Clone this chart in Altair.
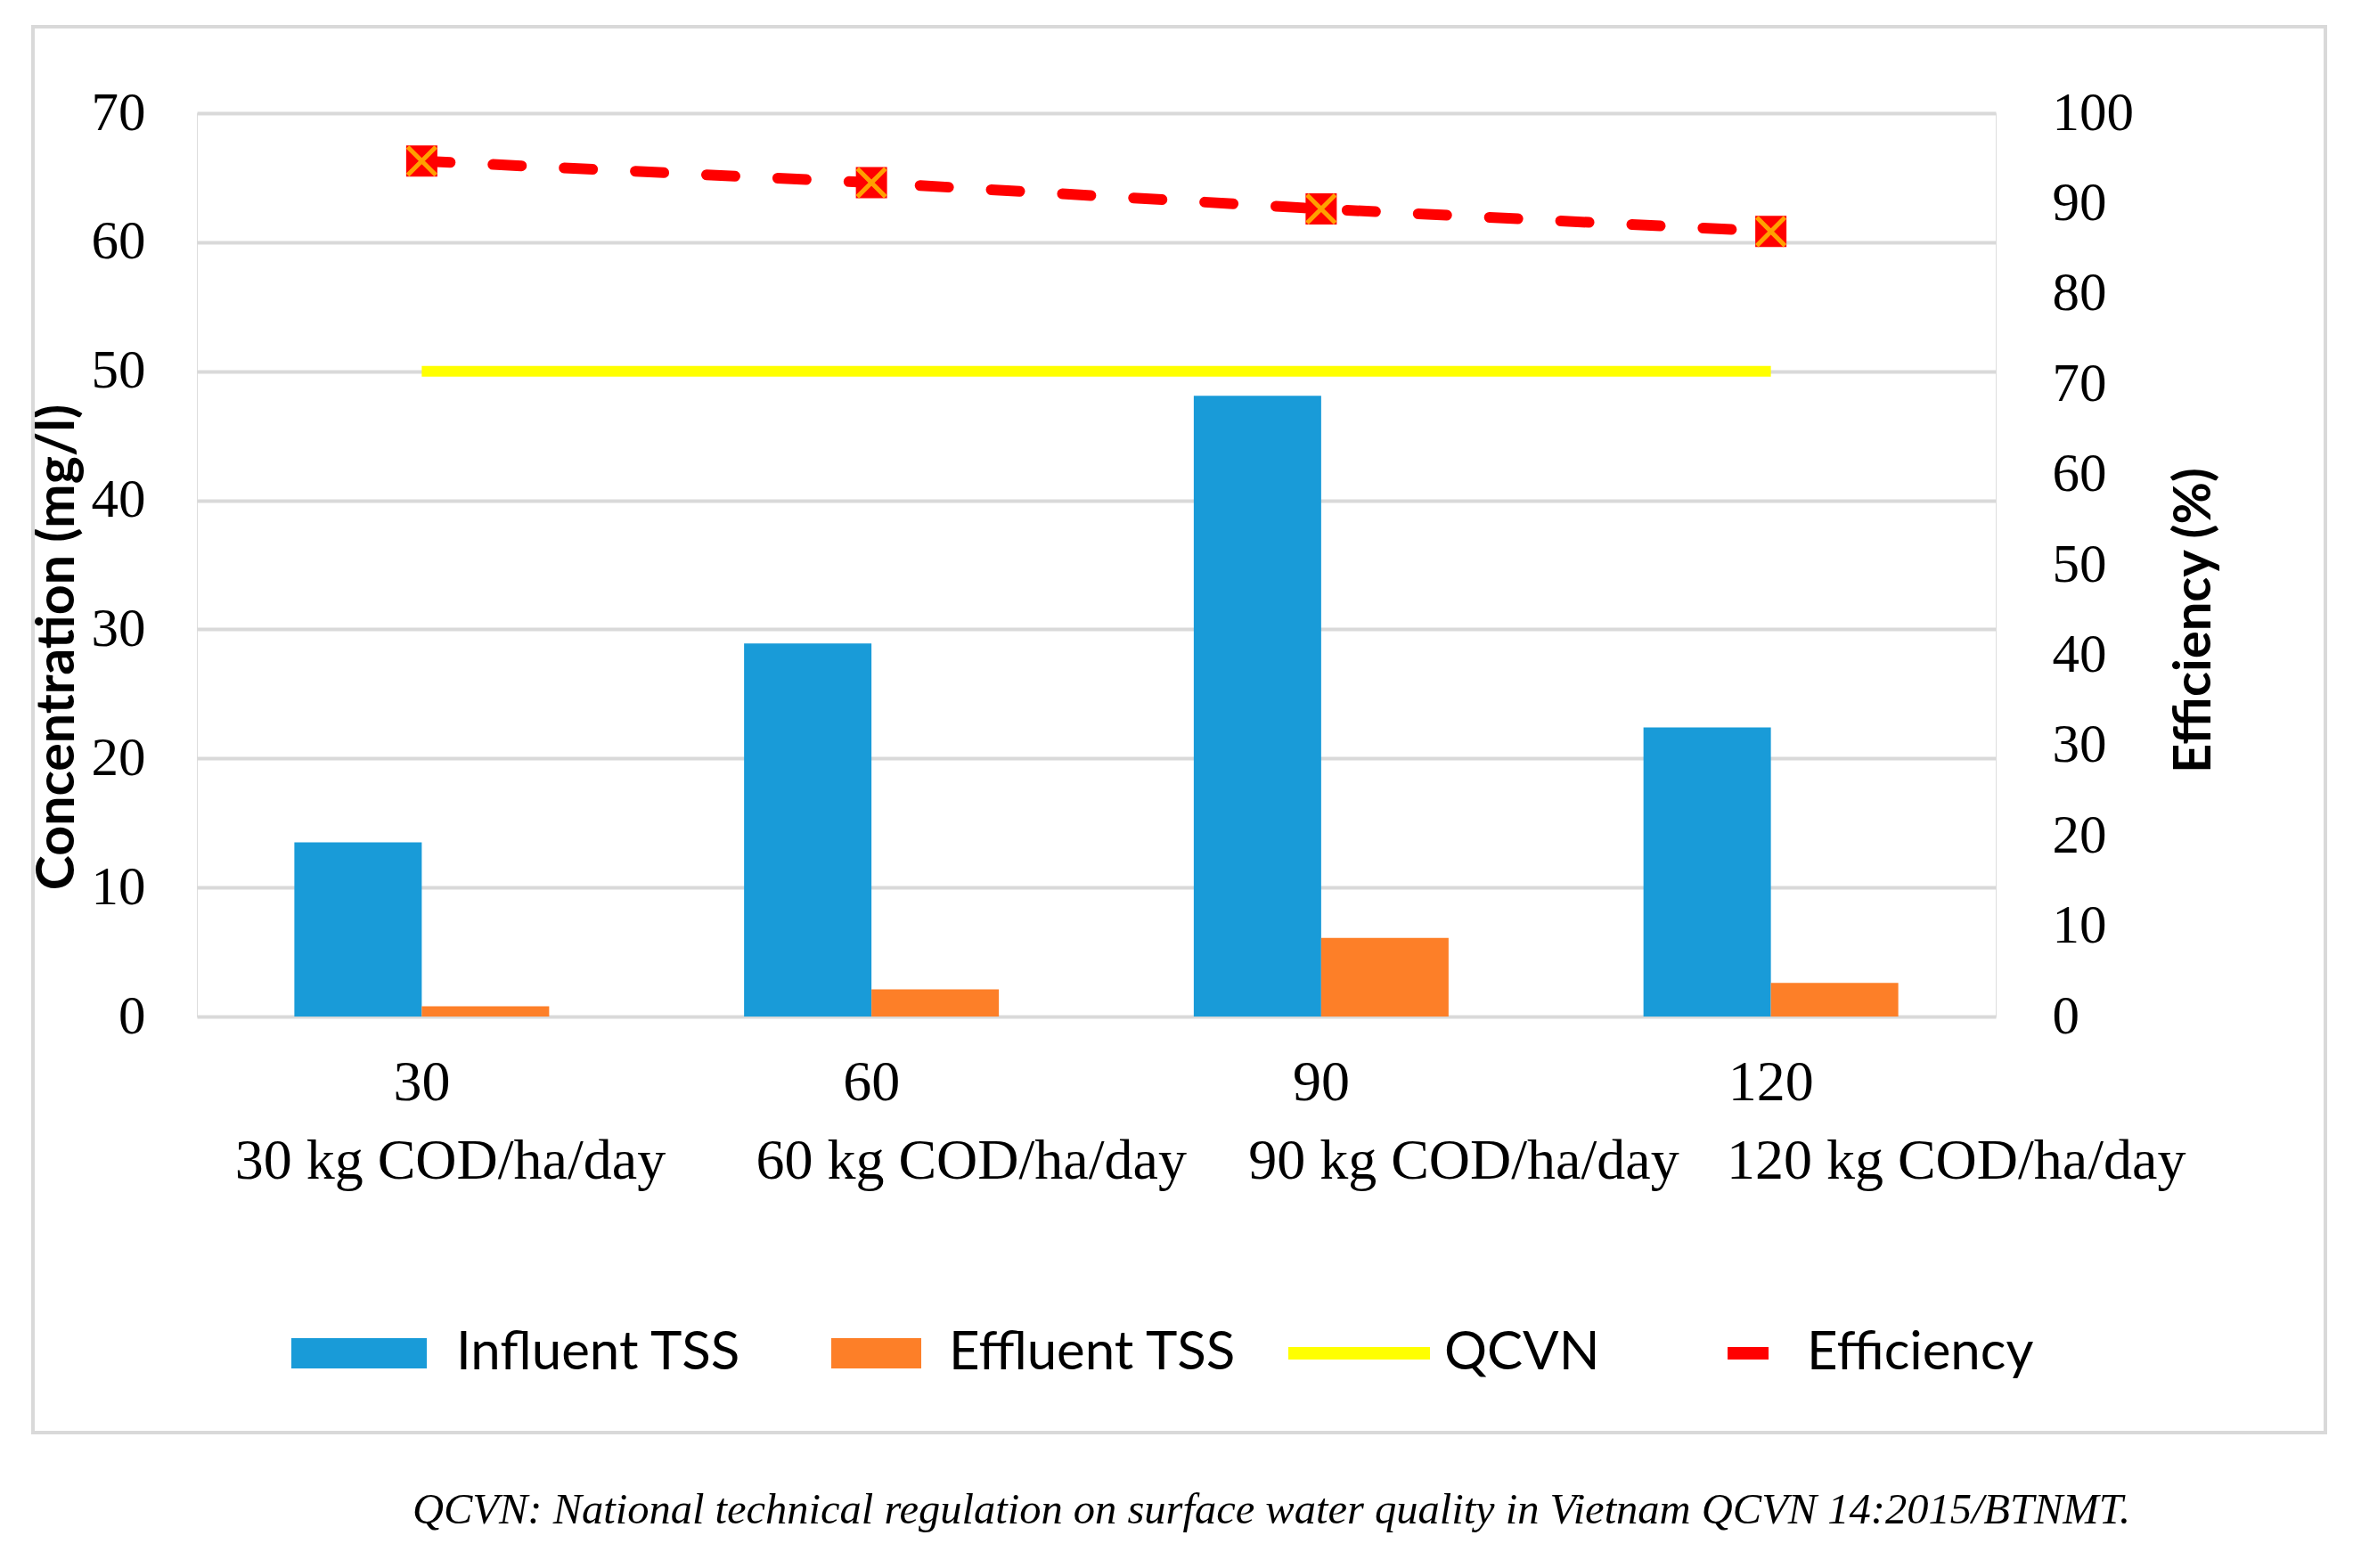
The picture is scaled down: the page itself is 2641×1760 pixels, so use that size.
import altair as alt
import pandas as pd

# ---- data ----
loads = ["30", "60", "90", "120"]
influent_tss = [13.5, 28.9, 48.1, 22.4]
effluent_tss = [0.8, 2.1, 6.1, 2.6]
qcvn_limit = [50, 50, 50, 50]
efficiency = [94.7, 92.3, 89.4, 86.9]

series_names = ["Influent TSS", "Effluent TSS", "QCVN", "Efficiency"]
series_colors = ["#199bd8", "#fd7f28", "#ffff00", "#ff0000"]
# legend key shapes (unit box -1..1), right-aligned to their labels
legend_shapes = [
    "M-0.9,-0.189H0.789V0.189H-0.9Z",
    "M-0.311,-0.189H0.811V0.189H-0.311Z",
    "M-0.789,-0.078H0.978V0.078H-0.789Z",
    "M0.167,-0.078H0.678V0.078H0.167Z",
]
footnote = "QCVN: National technical regulation on surface water quality in Vietnam QCVN 14:2015/BTNMT."

bars_df = pd.DataFrame(
    [{"load": l, "series": "Influent TSS", "value": v} for l, v in zip(loads, influent_tss)]
    + [{"load": l, "series": "Effluent TSS", "value": v} for l, v in zip(loads, effluent_tss)]
)
qcvn_df = pd.DataFrame({"load": loads, "series": "QCVN", "qcvn": qcvn_limit})
eff_df = pd.DataFrame({"load": loads, "series": "Efficiency", "eff": efficiency})
legend_df = pd.DataFrame({"series": series_names})
frame_df = pd.DataFrame({"k": [0]})

W, H = 2019, 1014

color_scale = alt.Scale(domain=series_names, range=series_colors)
shape_scale = alt.Scale(domain=series_names, range=legend_shapes)

legend = alt.Legend(
    orient="none", legendX=97, legendY=1302, direction="horizontal", title=None,
    symbolSize=32400, symbolStrokeWidth=0, symbolOpacity=1, symbolType="square",
    labelFont="Lato", labelFontSize=60,
    labelColor="black", labelOffset=14, labelLimit=1000, columnPadding=38, padding=0,
)

# second label line, nudged right as in the original (zero-width char keeps the pad from being trimmed)
ZW = "\u200b"
NB = "\u00a0"
second_line = (
    "'{zw}' + (datum.label == '30' ? pad('', 4, '{nb}') : datum.label == '60' ? pad('', 14, '{nb}') : "
    "datum.label == '90' ? pad('', 20, '{nb}') : pad('', 26, '{nb}')) + datum.label + ' kg COD/ha/day'"
).format(nb=NB, zw=ZW)

x_axis = alt.Axis(
    title=None, domain=False, ticks=False, grid=False, labelAngle=0,
    labelFont="Liberation Serif", labelFontSize=64, labelColor="black",
    labelPadding=42, labelLimit=1000, labelOverlap=False, labelLineHeight=88,
    labelExpr="[datum.label, " + second_line + "]",
)
x_enc = alt.X("load:N", sort=loads,
              scale=alt.Scale(paddingInner=0.4334, paddingOuter=0.2167),
              axis=x_axis)

left_axis = alt.Axis(
    title="Concentration (mg/l)", values=list(range(0, 71, 10)), domain=False, ticks=False,
    grid=True, gridColor="#d9d9d9", gridWidth=4,
    labelFont="Liberation Serif", labelFontSize=61, labelColor="black", labelPadding=58,
    titleFont="Lato", titleFontSize=59, titleFontWeight="bold", titleColor="black",
    titlePadding=8, titleY=599,
)
right_axis = alt.Axis(
    title="Efficiency (%)", orient="right", values=list(range(0, 101, 10)),
    domain=False, ticks=False, grid=False,
    labelFont="Liberation Serif", labelFontSize=61, labelColor="black", labelPadding=63,
    titleFont="Lato", titleFontSize=58, titleFontWeight="bold", titleColor="black",
    titleAngle=270, titleBaseline="top", titlePadding=40, titleY=569,
)

frame = alt.Chart(frame_df).mark_rect(
    fill=None, stroke="#d9d9d9", strokeWidth=4, clip=False
).encode(
    x=alt.value(-184), x2=alt.value(2389), y=alt.value(-97), y2=alt.value(1481)
)

# invisible marks that only carry the legend (colour + key shape)
legend_layer = alt.Chart(legend_df).mark_point(filled=True, opacity=0).encode(
    x=alt.value(0), y=alt.value(0),
    color=alt.Color("series:N", scale=color_scale, legend=legend),
    shape=alt.Shape("series:N", scale=shape_scale, legend=legend),
)

bars = alt.Chart(bars_df).mark_bar().encode(
    x=x_enc,
    xOffset=alt.XOffset("series:N", sort=["Influent TSS", "Effluent TSS"],
                        scale=alt.Scale(paddingInner=0, paddingOuter=0)),
    y=alt.Y("value:Q", scale=alt.Scale(domain=[0, 70]), axis=left_axis),
    color=alt.Color("series:N", scale=color_scale, legend=legend),
)

qcvn = alt.Chart(qcvn_df).mark_line(strokeWidth=12).encode(
    x=x_enc,
    y=alt.Y("qcvn:Q", scale=alt.Scale(domain=[0, 70]), axis=left_axis),
    color=alt.Color("series:N", scale=color_scale, legend=legend),
)

eff_line = alt.Chart(eff_df).mark_line(strokeWidth=12, strokeDash=[32, 48], strokeCap="round").encode(
    x=x_enc,
    y=alt.Y("eff:Q", scale=alt.Scale(domain=[0, 100]), axis=right_axis),
    color=alt.Color("series:N", scale=color_scale, legend=legend),
)
eff_sq = alt.Chart(eff_df).mark_point(
    shape="square", filled=True, fill="#ff0000", size=1225, opacity=1
).encode(
    x=x_enc,
    y=alt.Y("eff:Q", scale=alt.Scale(domain=[0, 100]), axis=right_axis),
)
eff_x = alt.Chart(eff_df).mark_point(
    shape="M-1,-1L1,1M1,-1L-1,1", filled=False, stroke="#ffa000", strokeWidth=5, size=1000, opacity=1
).encode(
    x=x_enc,
    y=alt.Y("eff:Q", scale=alt.Scale(domain=[0, 100]), axis=right_axis),
)

left = alt.layer(frame, legend_layer, bars, qcvn)
right = alt.layer(eff_line, eff_sq, eff_x)

chart = alt.layer(left, right).resolve_scale(y="independent").properties(
    width=W, height=H,
    autosize=alt.AutoSizeParams(type="none"),
    padding={"left": 213, "top": 119, "right": 393, "bottom": 611},
    title=alt.TitleParams(
        text=footnote, orient="bottom", anchor="start", frame="group",
        font="Liberation Serif", fontStyle="italic", fontWeight="normal",
        fontSize=48.5, color="black", dx=242, offset=62,
    ),
).configure_view(stroke=None).configure(background="white")

chart.save("out.html", embed_options={"renderer": "svg", "actions": False})
